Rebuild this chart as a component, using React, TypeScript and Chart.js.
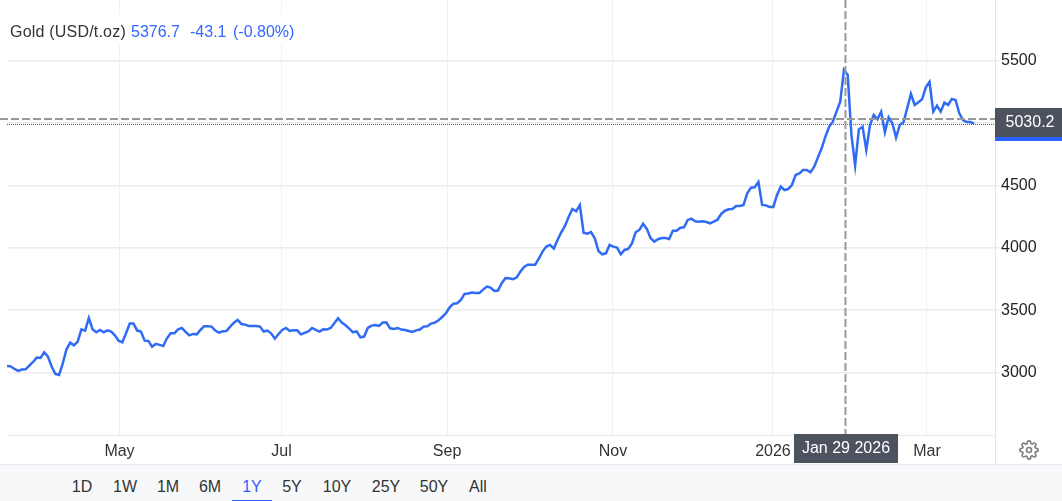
import React from "react";
import { Chart, registerables } from "chart.js";

Chart.register(...registerables);

const FONT = '"Liberation Sans", Arial, sans-serif';

// one close per trading session
const prices = [
  3052, 3049, 3028, 3012, 3023, 3025, 3055, 3084, 3119, 3116,
  3162, 3127, 3047, 2988, 2980, 3073, 3186, 3239, 3218, 3247,
  3346, 3336, 3437, 3346, 3322, 3341, 3322, 3338, 3328, 3298,
  3255, 3242, 3314, 3392, 3392, 3336, 3328, 3255, 3253, 3207,
  3229, 3221, 3212, 3274, 3314, 3314, 3346, 3357, 3325, 3298,
  3309, 3306, 3341, 3370, 3370, 3368, 3336, 3320, 3330, 3333,
  3368, 3400, 3421, 3389, 3384, 3373, 3373, 3373, 3368, 3328,
  3336, 3314, 3271, 3309, 3341, 3357, 3333, 3338, 3338, 3306,
  3317, 3330, 3357, 3341, 3328, 3346, 3344, 3357, 3394, 3435,
  3400, 3378, 3352, 3322, 3330, 3282, 3288, 3357, 3376, 3381,
  3373, 3400, 3400, 3354, 3349, 3357, 3344, 3341, 3333, 3325,
  3338, 3344, 3368, 3371, 3392, 3400, 3419, 3445, 3475, 3523,
  3552, 3555, 3582, 3630, 3633, 3641, 3638, 3638, 3665, 3689,
  3681, 3654, 3657, 3716, 3758, 3756, 3748, 3761, 3809, 3847,
  3865, 3865, 3865, 3916, 3972, 4010, 4023, 3994, 4063, 4125,
  4176, 4250, 4312, 4293, 4344, 4122, 4114, 4127, 4077, 3975,
  3948, 3956, 4023, 4010, 4002, 3948, 3983, 3991, 4036, 4125,
  4144, 4194, 4152, 4079, 4050, 4069, 4079, 4079, 4071, 4138,
  4138, 4162, 4165, 4224, 4234, 4213, 4210, 4213, 4207, 4197,
  4210, 4226, 4272, 4298, 4309, 4312, 4336, 4336, 4344, 4437,
  4483, 4486, 4528, 4344, 4341, 4328, 4328, 4424, 4491, 4464,
  4472, 4504, 4585, 4598, 4625, 4625, 4606, 4651, 4726, 4799,
  4892, 4972, 5013, 5093, 5173, 5428, 5387, 4906, 4662, 4951,
  4973, 4786, 4986, 5066, 5032, 5093, 4927, 5048, 5000, 4885,
  4986, 5008, 5120, 5235, 5147, 5168, 5192, 5288, 5331, 5093,
  5141, 5093, 5165, 5147, 5195, 5187, 5080, 5026, 5010, 5010,
  4997,
];
const sessions = prices.map((_, i) => i);

const priceTicks = [3000, 3500, 4000, 4500, 5000, 5500];
const priceLabels = ["3000", "3500", "4000", "4500", "", "5500"];
const monthTicks = [30.24, 73.8, 118.3, 162.9, 205.9, 247.3];
const monthLabels = ["May", "Jul", "Sep", "Nov", "2026", "Mar"];
const ranges = ["1D", "1W", "1M", "6M", "1Y", "5Y", "10Y", "25Y", "50Y", "All"];
const rangeCenters = [82, 125, 168, 210, 252, 292, 337, 386, 434, 478];

const crossSession = 225.4;
const crossPrice = 5030.2;
const crossDate = "Jan 29 2026";
const lastPrice = 4997;

// crosshair, last price line and the two dark labels
const overlay = {
  id: "overlay",
  afterDraw(chart: any) {
    const { ctx, chartArea: a, scales } = chart;
    const cx = scales.x.getPixelForValue(crossSession);
    const cy = scales.y.getPixelForValue(crossPrice);
    const ly = scales.y.getPixelForValue(lastPrice);
    ctx.save();

    ctx.strokeStyle = "#e6e6e6";
    ctx.lineWidth = 1;
    ctx.beginPath();
    ctx.moveTo(a.right + 0.5, 0);
    ctx.lineTo(a.right + 0.5, 464);
    ctx.stroke();

    ctx.strokeStyle = "#2962ff";
    ctx.lineWidth = 1;
    ctx.setLineDash([1, 1]);
    ctx.beginPath();
    ctx.moveTo(a.left, Math.round(ly) + 0.5);
    ctx.lineTo(a.right, Math.round(ly) + 0.5);
    ctx.stroke();

    ctx.strokeStyle = "#999999";
    ctx.lineWidth = 2;
    ctx.setLineDash([8, 3]);
    ctx.beginPath();
    ctx.moveTo(0, Math.round(cy));
    ctx.lineTo(a.right, Math.round(cy));
    ctx.moveTo(cx, 0);
    ctx.lineTo(cx, a.bottom);
    ctx.stroke();
    ctx.setLineDash([]);

    ctx.fillStyle = "#4c525e";
    ctx.fillRect(a.right, 108, 67, 29);
    ctx.fillStyle = "#2962ff";
    ctx.fillRect(a.right, 137, 67, 4);
    ctx.fillStyle = "#4c525e";
    ctx.fillRect(794, 434, 104, 29);

    ctx.fillStyle = "#ffffff";
    ctx.font = `16px ${FONT}`;
    ctx.textAlign = "center";
    ctx.textBaseline = "middle";
    ctx.fillText(crossPrice.toFixed(1), 1030, 123);
    ctx.fillText(crossDate, 846, 449);
    ctx.restore();
  },
};

export default function App() {
  const chartRef = React.useRef<HTMLCanvasElement>(null);

  React.useEffect(() => {
    let chart: Chart | undefined;
    if (chartRef.current !== null) {
      chart = new Chart(chartRef.current, {
        type: "line",
        data: {
          labels: sessions,
          datasets: [
            {
              label: "Gold",
              data: sessions.map((s, i) => ({ x: s, y: prices[i] })),
              borderColor: "#2f6bf5",
              borderWidth: 2.5,
              pointRadius: 0,
              tension: 0,
              fill: false,
            },
          ],
        },
        options: {
          animation: false,
          responsive: false,
          maintainAspectRatio: false,
          layout: { padding: { left: 7, top: 0, right: 0, bottom: 0 } },
          plugins: { legend: { display: false }, tooltip: { enabled: false } },
          scales: {
            x: {
              type: "linear",
              min: 0,
              max: 265.6,
              afterBuildTicks: (scale: any) => {
                scale.ticks = monthTicks.map((value) => ({ value }));
              },
              afterFit: (scale: any) => {
                scale.height = 29;
              },
              border: { color: "#e6e6e6", width: 1 },
              grid: { color: "#f0f1f3", drawTicks: false },
              ticks: {
                autoSkip: false,
                maxRotation: 0,
                padding: 7,
                color: "#333333",
                font: { family: FONT, size: 16 },
                callback: (value: any) => monthLabels[monthTicks.indexOf(value)],
              },
            },
            y: {
              type: "linear",
              position: "right",
              min: 2498,
              max: 5989,
              afterBuildTicks: (scale: any) => {
                scale.ticks = priceTicks.map((value) => ({ value }));
              },
              afterFit: (scale: any) => {
                scale.width = 67;
                scale.paddingTop = 0;
                scale.paddingBottom = 0;
              },
              border: { display: false },
              grid: { color: "#ececec", lineWidth: 1.5, tickLength: 4 },
              ticks: {
                autoSkip: false,
                padding: 2,
                color: "#222222",
                font: { family: FONT, size: 16 },
                callback: (value: any) => priceLabels[priceTicks.indexOf(value)],
              },
            },
          },
        },
        plugins: [overlay],
      } as any);
    }
    return () => {
      chart?.destroy();
    };
  }, []);

  return (
    <div
      style={{
        position: "absolute",
        left: 0,
        top: 0,
        width: 1062,
        height: 501,
        overflow: "hidden",
        background: "#ffffff",
        fontFamily: FONT,
        fontSize: 16,
      }}
    >
      <canvas
        ref={chartRef}
        width={1062}
        height={464}
        style={{ display: "block", width: 1062, height: 464 }}
      />
      <div
        style={{
          position: "absolute",
          left: 0,
          top: 15,
          width: 310,
          height: 30,
          background: "#ffffff",
          lineHeight: "34px",
          whiteSpace: "pre",
        }}
      >
        <span style={{ position: "absolute", left: 10, color: "#333333", letterSpacing: 0.2 }}>Gold (USD/t.oz)</span>
        <span style={{ position: "absolute", left: 131, color: "#3366ff" }}>5376.7</span>
        <span style={{ position: "absolute", left: 190, color: "#3366ff" }}>-43.1</span>
        <span style={{ position: "absolute", left: 233, color: "#3366ff" }}>(-0.80%)</span>
      </div>
      <svg
        width="20"
        height="20"
        viewBox="0 0 24 24"
        fill="none"
        stroke="#808080"
        strokeWidth="2"
        style={{ position: "absolute", left: 1019, top: 440 }}
      >
        <circle cx="12" cy="12" r="3" />
        <path d="M19.4 15a1.65 1.65 0 0 0 .33 1.82l.06.06a2 2 0 0 1 0 2.83 2 2 0 0 1-2.83 0l-.06-.06a1.65 1.65 0 0 0-1.82-.33 1.65 1.65 0 0 0-1 1.51V21a2 2 0 0 1-2 2 2 2 0 0 1-2-2v-.09A1.65 1.65 0 0 0 9 19.4a1.65 1.65 0 0 0-1.82.33l-.06.06a2 2 0 0 1-2.83 0 2 2 0 0 1 0-2.83l.06-.06a1.65 1.65 0 0 0 .33-1.82 1.65 1.65 0 0 0-1.51-1H3a2 2 0 0 1-2-2 2 2 0 0 1 2-2h.09A1.65 1.65 0 0 0 4.6 9a1.65 1.65 0 0 0-.33-1.82l-.06-.06a2 2 0 0 1 0-2.83 2 2 0 0 1 2.83 0l.06.06a1.65 1.65 0 0 0 1.82.33H9a1.65 1.65 0 0 0 1-1.51V3a2 2 0 0 1 2-2 2 2 0 0 1 2 2v.09a1.65 1.65 0 0 0 1 1.51 1.65 1.65 0 0 0 1.82-.33l.06-.06a2 2 0 0 1 2.83 0 2 2 0 0 1 0 2.83l-.06.06a1.65 1.65 0 0 0-.33 1.82V9a1.65 1.65 0 0 0 1.51 1H21a2 2 0 0 1 2 2 2 2 0 0 1-2 2h-.09a1.65 1.65 0 0 0-1.51 1z" />
      </svg>
      <div
        style={{
          position: "absolute",
          left: 0,
          top: 464,
          width: 1062,
          height: 37,
          boxSizing: "border-box",
          background: "#f7f8fa",
          borderTop: "1px solid #e6e8ec",
        }}
      >
        {ranges.map((r, i) => (
          <span
            key={r}
            style={{
              position: "absolute",
              left: rangeCenters[i] - 30,
              width: 60,
              top: 12,
              textAlign: "center",
              lineHeight: "19px",
              color: r === "1Y" ? "#3d5afe" : "#333333",
            }}
          >
            {r}
          </span>
        ))}
        <div
          style={{
            position: "absolute",
            left: 232,
            top: 35,
            width: 40,
            height: 1,
            background: "#2962ff",
          }}
        />
      </div>
    </div>
  );
}
